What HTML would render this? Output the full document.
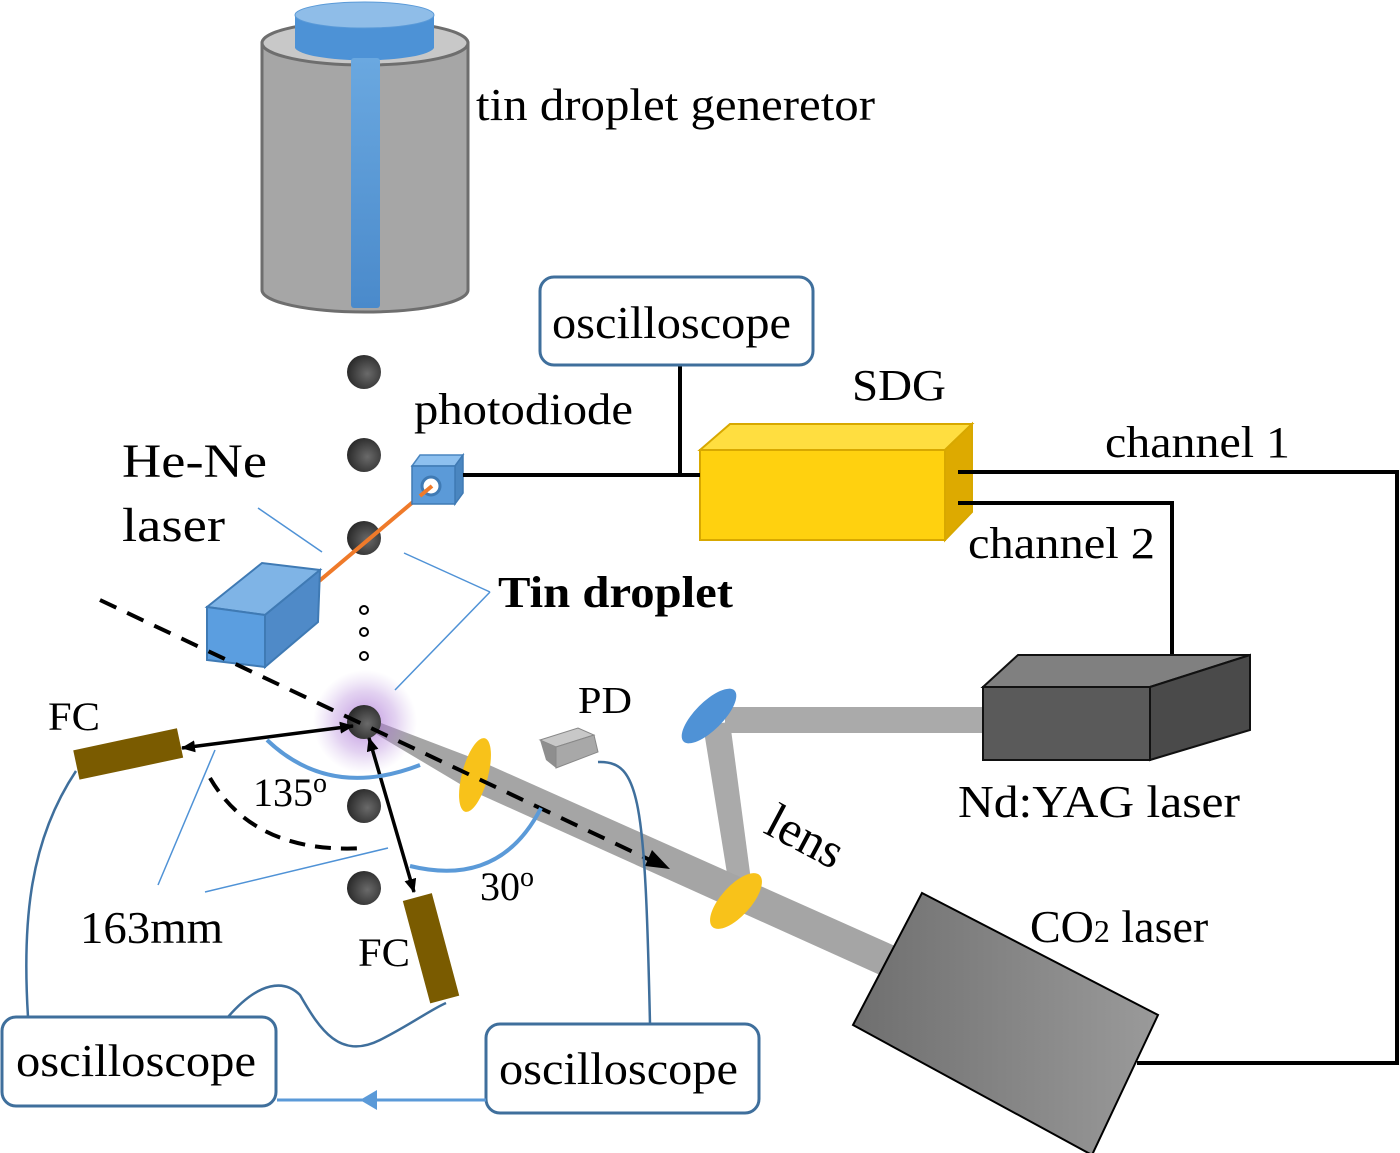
<!DOCTYPE html>
<html><head><meta charset="utf-8"><style>
html,body{margin:0;padding:0;background:#fff;}
svg{display:block;}
text{font-family:"Liberation Serif",serif;fill:#000;}
</style></head><body>
<svg width="1400" height="1153" viewBox="0 0 1400 1153" xmlns="http://www.w3.org/2000/svg">
<defs>
<linearGradient id="blueg" x1="0" y1="0" x2="0" y2="1"><stop offset="0" stop-color="#6aa8e0"/><stop offset="1" stop-color="#4a8acb"/></linearGradient>
<radialGradient id="drop" cx="0.6" cy="0.55" r="0.6"><stop offset="0" stop-color="#6a6a6a"/><stop offset="1" stop-color="#2a2a2a"/></radialGradient>
<radialGradient id="glow"><stop offset="0" stop-color="#a060d0" stop-opacity="0.7"/><stop offset="0.6" stop-color="#b080d8" stop-opacity="0.35"/><stop offset="1" stop-color="#c0a0e0" stop-opacity="0"/></radialGradient>
<linearGradient id="co2" x1="0" y1="0" x2="1" y2="0"><stop offset="0" stop-color="#6f6f6f"/><stop offset="1" stop-color="#9a9a9a"/></linearGradient>
<marker id="ah" markerWidth="14" markerHeight="12" refX="13" refY="6" orient="auto-start-reverse" markerUnits="userSpaceOnUse"><path d="M0,0 L14,6 L0,12 z" fill="#000"/></marker>
</defs>

<path d="M262,43 L262,290 A103,22 0 0 0 468,290 L468,43 Z" fill="#a6a6a6" stroke="#6e6e6e" stroke-width="3"/>
<ellipse cx="365" cy="43" rx="103" ry="22" fill="#c8c8c8" stroke="#6e6e6e" stroke-width="3"/>
<path d="M295,15 L295,48 A70,14 0 0 0 434,48 L434,15 Z" fill="#4d92d6"/>
<ellipse cx="364.5" cy="15" rx="69.5" ry="13" fill="#8fbde8" stroke="#5a9ad8" stroke-width="1"/>
<rect x="351" y="58" width="29" height="250" rx="3" fill="url(#blueg)"/>

<g fill="url(#drop)">
<circle cx="364" cy="372" r="17"/><circle cx="364" cy="455" r="17"/><circle cx="364" cy="538" r="17"/>
<circle cx="364" cy="806" r="17"/><circle cx="364" cy="888" r="17"/>
</g>
<g fill="none" stroke="#000" stroke-width="2"><circle cx="364" cy="610" r="4"/><circle cx="364" cy="632" r="4"/><circle cx="364" cy="656" r="4"/></g>

<line x1="432" y1="486" x2="318" y2="582" stroke="#ef7a2a" stroke-width="4"/>
<polygon points="412,466 420,455 463,455 455,466" fill="#8dc0ef" stroke="#4a86c0" stroke-width="1.5"/>
<polygon points="455,466 463,455 463,493 455,504" fill="#4a86c0" stroke="#3f7ab4" stroke-width="1.5"/>
<rect x="412" y="466" width="43" height="38" fill="#5b9ad8" stroke="#3f7ab4" stroke-width="1.5"/>
<circle cx="431" cy="486" r="9" fill="#fff" stroke="#3f7ab4" stroke-width="3"/>
<line x1="432" y1="486" x2="420" y2="496" stroke="#ef7a2a" stroke-width="4"/>

<polygon points="207,607 262,563 320,570 265,615" fill="#7fb4e6" stroke="#3f7ab4" stroke-width="2"/>
<polygon points="265,615 320,570 318,622 265,667" fill="#4f8ac8" stroke="#3f7ab4" stroke-width="2"/>
<polygon points="207,607 265,615 265,667 207,660" fill="#5b9ee0" stroke="#3f7ab4" stroke-width="2"/>

<polygon points="700,450 730,424 972,424 945,450" fill="#ffde40" stroke="#d8a800" stroke-width="2"/>
<polygon points="945,450 972,424 972,512 945,540" fill="#ddaa00" stroke="#d8a800" stroke-width="2"/>
<rect x="700" y="450" width="245" height="90" fill="#ffd10f" stroke="#d8a800" stroke-width="2"/>

<g stroke="#000" stroke-width="4" fill="none">
<line x1="463" y1="475" x2="700" y2="475"/>
<line x1="680" y1="365" x2="680" y2="475"/>
<polyline points="958,472 1397,472 1397,1063 1137,1063"/>
<polyline points="958,503 1172,503 1172,655"/>
</g>

<rect x="540" y="277" width="273" height="88" rx="14" fill="#fff" stroke="#3f6f9c" stroke-width="3"/>
<text x="552" y="338" font-size="46" textLength="239" lengthAdjust="spacingAndGlyphs">oscilloscope</text>

<polygon points="725,707 983,707 983,733 725,733" fill="#aaaaaa"/>
<polygon points="703,725 730,722 752,888 730,892" fill="#aaaaaa"/>
<polygon points="368,718 478,760 895,946 880,975 470,790 366,728" fill="#a5a5a5"/>
<polygon points="922,893 1158,1015 1092,1155 853,1025" fill="url(#co2)" stroke="#000" stroke-width="2"/>
<polygon points="983,687 1018,655 1250,655 1150,687" fill="#808080" stroke="#111" stroke-width="2"/>
<polygon points="1150,687 1250,655 1250,730 1150,760" fill="#4a4a4a" stroke="#111" stroke-width="2"/>
<rect x="983" y="687" width="167" height="73" fill="#5a5a5a" stroke="#111" stroke-width="2"/>

<ellipse cx="709" cy="716" rx="14" ry="36" transform="rotate(45 709 716)" fill="#4f92d6"/>
<ellipse cx="736" cy="901" rx="15" ry="35" transform="rotate(42 736 901)" fill="#f8c21a"/>
<ellipse cx="475" cy="775" rx="13" ry="38" transform="rotate(15 475 775)" fill="#f8c21a"/>

<circle cx="365" cy="722" r="52" fill="url(#glow)"/>
<circle cx="364" cy="722" r="17" fill="url(#drop)"/>

<line x1="100" y1="600" x2="650" y2="860" stroke="#000" stroke-width="4" stroke-dasharray="18,12"/>
<polygon points="670,869 652,850 645,866" fill="#000"/>

<rect x="-53" y="-14" width="106" height="30" fill="#7a5b00" transform="translate(128 753) rotate(-12)"/>
<rect x="-53" y="-14" width="106" height="30" fill="#7a5b00" transform="translate(432 948) rotate(75)"/>

<polygon points="540,740 578,728 594,735 556,747" fill="#c8c8c8" stroke="#888" stroke-width="1"/>
<polygon points="540,740 556,747 556,768 546,760" fill="#8e8e8e"/>
<polygon points="556,747 594,735 598,752 556,768" fill="#a8a8a8" stroke="#888" stroke-width="1"/>

<line x1="182" y1="748" x2="353" y2="726" stroke="#000" stroke-width="3.5" marker-start="url(#ah)" marker-end="url(#ah)"/>
<line x1="369" y1="738" x2="414" y2="892" stroke="#000" stroke-width="3.5" marker-start="url(#ah)" marker-end="url(#ah)"/>

<path d="M267,740 Q330,800 420,765" fill="none" stroke="#5b9ad8" stroke-width="4"/>
<path d="M410,866 Q500,888 541,808" fill="none" stroke="#5b9ad8" stroke-width="4"/>
<path d="M210,778 Q255,855 365,848" fill="none" stroke="#000" stroke-width="4" stroke-dasharray="16,10"/>

<g stroke="#4f92d6" stroke-width="1.5" fill="none">
<line x1="258" y1="508" x2="322" y2="552"/>
<line x1="404" y1="553" x2="490" y2="592"/>
<line x1="490" y1="592" x2="395" y2="690"/>
<line x1="215" y1="750" x2="158" y2="885"/>
<line x1="205" y1="892" x2="388" y2="848"/>
</g>

<g stroke="#3f6f9c" stroke-width="2.5" fill="none">
<path d="M76,771 C30,840 22,920 28,1017"/>
<path d="M228,1017 C260,980 285,980 300,995 C320,1030 340,1060 380,1040 C410,1025 430,1010 446,1003"/>
<path d="M598,762 C640,760 645,800 650,1024"/>
</g>

<rect x="2" y="1017" width="274" height="89" rx="14" fill="#fff" stroke="#3f6f9c" stroke-width="3"/>
<text x="16" y="1076" font-size="46" textLength="240" lengthAdjust="spacingAndGlyphs">oscilloscope</text>
<rect x="486" y="1024" width="273" height="89" rx="14" fill="#fff" stroke="#3f6f9c" stroke-width="3"/>
<text x="499" y="1084" font-size="46" textLength="239" lengthAdjust="spacingAndGlyphs">oscilloscope</text>
<line x1="486" y1="1100" x2="277" y2="1100" stroke="#5b9ad8" stroke-width="3"/>
<polygon points="360,1100 377,1090 377,1110" fill="#5b9ad8"/>

<text x="476" y="120" font-size="46" textLength="399" lengthAdjust="spacingAndGlyphs">tin droplet generetor</text>
<text x="852" y="400" font-size="44" textLength="94" lengthAdjust="spacingAndGlyphs">SDG</text>
<text x="414" y="424" font-size="44" textLength="219" lengthAdjust="spacingAndGlyphs">photodiode</text>
<text x="122" y="477" font-size="48" textLength="145" lengthAdjust="spacingAndGlyphs">He-Ne</text>
<text x="122" y="541" font-size="48" textLength="103" lengthAdjust="spacingAndGlyphs">laser</text>
<text x="1105" y="457" font-size="44" textLength="185" lengthAdjust="spacingAndGlyphs">channel 1</text>
<text x="968" y="558" font-size="44" textLength="187" lengthAdjust="spacingAndGlyphs">channel 2</text>
<text x="498" y="607" font-size="44" font-weight="bold" textLength="235" lengthAdjust="spacingAndGlyphs">Tin droplet</text>
<text x="578" y="713" font-size="38" textLength="54" lengthAdjust="spacingAndGlyphs">PD</text>
<text x="48" y="730" font-size="40" textLength="52" lengthAdjust="spacingAndGlyphs">FC</text>
<text x="358" y="966" font-size="40" textLength="52" lengthAdjust="spacingAndGlyphs">FC</text>
<text x="253" y="806" font-size="40">135<tspan font-size="28" dy="-14">o</tspan></text>
<text x="480" y="900" font-size="40">30<tspan font-size="28" dy="-14">o</tspan></text>
<text x="80" y="943" font-size="46" textLength="143" lengthAdjust="spacingAndGlyphs">163mm</text>
<text x="0" y="0" font-size="50" transform="translate(762 832) rotate(28)">lens</text>
<text x="958" y="817" font-size="46" textLength="282" lengthAdjust="spacingAndGlyphs">Nd:YAG laser</text>
<text x="1030" y="942" font-size="46">CO<tspan font-size="32">2</tspan> laser</text>
</svg>
</body></html>
